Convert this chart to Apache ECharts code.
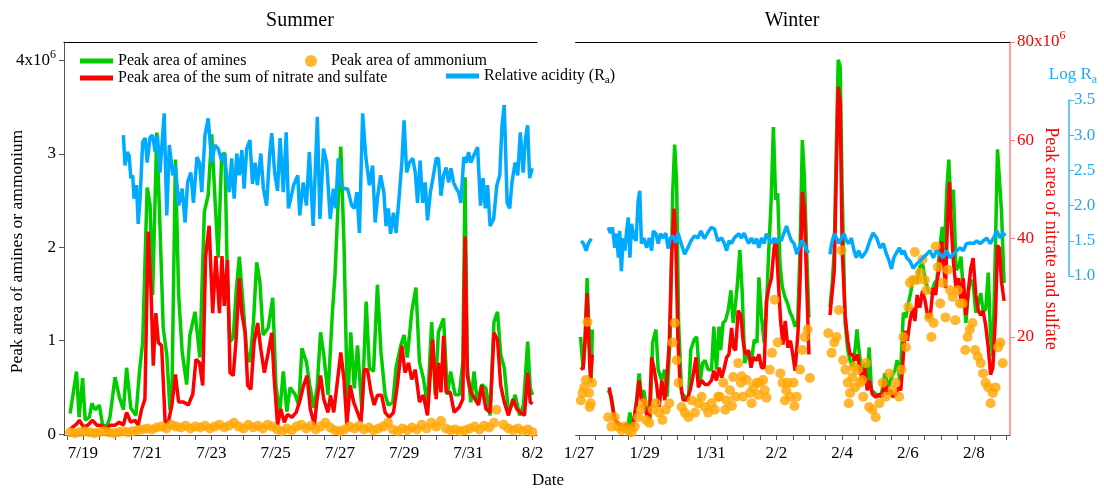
<!DOCTYPE html>
<html>
<head>
<meta charset="utf-8">
<script src="https://cdn.jsdelivr.net/npm/echarts@6/dist/echarts.min.js"></script>
<style>
  html, body { margin: 0; padding: 0; background: #fff; }
  #chart { width: 1104px; height: 489px; }
</style>
</head>
<body>
<div id="chart"></div>
<script>
// Time is in fractional days of the month: July for summer (32 = Aug 1),
// January for winter (32 = Feb 1).

// ---------- Summer ----------
const summerAmines = [[18.60,0.22],[18.80,0.67],[18.88,0.18],[18.99,0.60],[19.07,0.15],[19.20,0.18],[19.28,0.33],[19.38,0.26],[19.51,0.31],[19.61,0.10],[19.74,0.08],[19.84,0.18],[20.00,0.61],[20.13,0.40],[20.26,0.26],[20.36,0.71],[20.49,0.28],[20.65,0.20],[20.76,0.67],[20.86,0.98],[21.00,2.64],[21.09,2.46],[21.17,1.49],[21.30,3.23],[21.40,2.21],[21.50,1.14],[21.61,0.85],[21.71,0.26],[21.77,0.42],[21.88,2.94],[21.98,1.49],[22.09,0.88],[22.23,0.53],[22.33,1.06],[22.49,1.31],[22.64,0.82],[22.78,2.38],[22.90,2.56],[23.01,3.21],[23.11,2.53],[23.21,1.89],[23.32,2.99],[23.42,3.01],[23.50,1.63],[23.58,0.99],[23.68,1.03],[23.77,1.52],[23.87,1.90],[23.98,1.42],[24.10,0.88],[24.20,0.77],[24.31,1.20],[24.41,1.84],[24.51,1.63],[24.61,1.06],[24.77,1.14],[24.91,1.46],[25.01,0.53],[25.12,0.20],[25.24,0.67],[25.35,0.24],[25.45,0.50],[25.61,0.42],[25.72,0.31],[25.82,0.92],[25.96,0.77],[26.06,0.53],[26.19,0.28],[26.29,0.49],[26.40,1.09],[26.50,0.85],[26.63,0.42],[26.77,1.31],[26.85,1.71],[26.92,2.27],[27.03,3.08],[27.13,2.03],[27.24,0.24],[27.34,1.09],[27.45,0.49],[27.55,0.95],[27.69,0.24],[27.82,1.42],[27.92,0.71],[28.05,0.67],[28.17,1.60],[28.28,0.88],[28.41,0.42],[28.51,0.31],[28.65,0.34],[28.75,0.71],[28.90,0.95],[29.00,1.06],[29.10,0.82],[29.24,1.31],[29.37,1.57],[29.48,0.77],[29.60,0.60],[29.73,0.31],[29.86,1.20],[29.97,0.42],[30.07,1.09],[30.23,1.24],[30.35,0.42],[30.45,0.67],[30.59,0.42],[30.72,0.42],[30.83,0.77],[30.90,2.75],[30.97,0.71],[31.08,0.34],[31.18,0.67],[31.28,0.34],[31.42,0.53],[31.55,0.49],[31.68,0.20],[31.80,1.20],[31.91,1.31],[32.01,0.85],[32.12,0.71],[32.25,0.24],[32.36,0.31],[32.46,0.42],[32.60,0.20],[32.72,0.31],[32.85,0.99],[32.93,0.49],[33.00,0.42]];

const summerNitrateSulfate = [[18.60,1.2],[18.80,2.2],[18.89,3.0],[19.02,1.6],[19.15,2.0],[19.30,3.0],[19.43,2.0],[19.56,2.0],[19.74,1.2],[19.84,2.0],[20.00,2.0],[20.13,2.6],[20.26,2.0],[20.36,4.6],[20.49,2.6],[20.62,3.0],[20.72,2.0],[20.83,5.3],[20.93,7.3],[21.03,41.4],[21.12,29.5],[21.19,14.1],[21.27,24.8],[21.35,18.8],[21.45,18.2],[21.56,2.6],[21.66,2.6],[21.77,6.1],[21.88,12.3],[21.98,6.7],[22.13,6.7],[22.28,6.1],[22.42,8.3],[22.52,15.4],[22.63,14.7],[22.73,10.1],[22.82,36.4],[22.93,42.6],[23.04,24.8],[23.14,36.4],[23.25,24.8],[23.33,36.4],[23.40,26.3],[23.50,35.6],[23.58,12.7],[23.68,12.1],[23.77,19.4],[23.87,31.9],[23.95,24.8],[24.05,20.8],[24.13,10.1],[24.23,9.3],[24.33,18.8],[24.44,22.8],[24.54,17.4],[24.65,12.7],[24.77,16.8],[24.88,20.8],[24.95,12.1],[25.06,2.0],[25.16,5.3],[25.27,2.6],[25.37,4.2],[25.51,3.6],[25.64,4.6],[25.77,7.3],[25.87,10.1],[25.98,12.1],[26.08,5.3],[26.21,2.0],[26.29,7.3],[26.40,12.1],[26.50,7.3],[26.63,4.6],[26.71,8.1],[26.81,4.6],[26.92,10.7],[27.03,16.8],[27.13,11.3],[27.22,2.0],[27.32,10.1],[27.43,6.7],[27.55,4.6],[27.66,2.6],[27.76,13.3],[27.86,13.3],[27.97,8.7],[28.07,6.1],[28.17,8.1],[28.30,8.1],[28.41,4.6],[28.54,3.6],[28.67,4.6],[28.79,10.1],[28.93,18.2],[29.03,12.7],[29.14,14.7],[29.24,11.3],[29.35,13.3],[29.48,6.7],[29.60,8.1],[29.73,4.0],[29.89,19.4],[30.00,7.3],[30.07,14.7],[30.15,8.7],[30.23,20.2],[30.31,8.7],[30.44,8.7],[30.56,4.6],[30.72,5.7],[30.83,7.3],[30.90,40.4],[30.97,12.1],[31.08,8.7],[31.21,7.3],[31.32,6.1],[31.42,10.1],[31.55,5.3],[31.68,4.6],[31.80,20.8],[31.91,19.4],[32.01,10.1],[32.12,6.7],[32.25,4.0],[32.39,7.3],[32.51,5.3],[32.62,4.6],[32.75,4.0],[32.85,12.7],[32.93,6.7],[33.00,6.3]];

const summerAmmonium = [[18.60,0.02],[18.75,0.01],[18.90,0.02],[19.05,0.03],[19.20,0.02],[19.35,0.01],[19.50,0.02],[19.65,0.03],[19.80,0.02],[19.95,0.01],[20.10,0.02],[20.25,0.03],[20.40,0.02],[20.55,0.03],[20.70,0.04],[20.85,0.05],[21.00,0.06],[21.15,0.05],[21.30,0.07],[21.45,0.08],[21.60,0.06],[21.75,0.10],[21.90,0.08],[22.05,0.07],[22.20,0.09],[22.35,0.06],[22.50,0.08],[22.65,0.07],[22.80,0.09],[22.95,0.06],[23.10,0.08],[23.25,0.10],[23.40,0.07],[23.55,0.09],[23.70,0.12],[23.85,0.08],[24.00,0.06],[24.15,0.10],[24.30,0.07],[24.45,0.09],[24.60,0.06],[24.75,0.10],[24.90,0.08],[25.05,0.05],[25.20,0.03],[25.35,0.06],[25.50,0.04],[25.65,0.08],[25.80,0.10],[25.95,0.06],[26.10,0.09],[26.25,0.05],[26.40,0.08],[26.55,0.12],[26.70,0.07],[26.85,0.04],[27.00,0.03],[27.15,0.05],[27.30,0.08],[27.45,0.06],[27.60,0.09],[27.75,0.05],[27.90,0.07],[28.05,0.04],[28.20,0.06],[28.35,0.08],[28.50,0.12],[28.65,0.05],[28.80,0.03],[28.95,0.06],[29.10,0.04],[29.25,0.07],[29.40,0.05],[29.55,0.10],[29.70,0.06],[29.85,0.12],[30.00,0.08],[30.15,0.14],[30.30,0.06],[30.45,0.04],[30.60,0.05],[30.75,0.03],[30.90,0.04],[31.05,0.06],[31.20,0.08],[31.35,0.05],[31.50,0.09],[31.65,0.07],[31.80,0.12],[31.88,0.26],[32.10,0.10],[32.25,0.06],[32.40,0.04],[32.55,0.06],[32.70,0.03],[32.85,0.05],[33.00,0.02]];

const summerLogRa = [[20.26,3.00],[20.31,2.57],[20.38,2.76],[20.44,2.71],[20.49,2.39],[20.55,2.43],[20.59,2.10],[20.67,2.29],[20.72,1.74],[20.78,2.10],[20.86,2.90],[20.94,2.96],[21.00,2.61],[21.09,2.97],[21.17,3.00],[21.25,2.76],[21.32,3.00],[21.40,2.47],[21.53,3.31],[21.61,1.86],[21.69,2.86],[21.80,2.43],[21.88,2.57],[21.98,2.00],[22.09,2.24],[22.18,1.76],[22.26,2.33],[22.36,2.47],[22.44,2.04],[22.55,2.69],[22.63,2.61],[22.70,2.19],[22.80,3.00],[22.90,3.24],[23.01,2.61],[23.11,2.86],[23.21,2.81],[23.32,2.64],[23.40,2.74],[23.48,2.43],[23.56,2.19],[23.63,2.67],[23.71,2.10],[23.79,2.74],[23.87,2.43],[23.95,2.79],[24.02,2.24],[24.10,2.81],[24.20,2.93],[24.28,2.31],[24.36,2.61],[24.43,2.29],[24.54,2.74],[24.62,2.24],[24.72,2.00],[24.81,2.71],[24.88,3.03],[24.97,2.47],[25.06,2.21],[25.14,2.96],[25.24,2.19],[25.33,3.04],[25.40,1.96],[25.49,2.14],[25.56,2.29],[25.69,2.43],[25.75,1.86],[25.86,2.33],[25.96,2.00],[26.05,2.76],[26.17,1.71],[26.30,3.26],[26.38,1.81],[26.49,2.81],[26.59,2.61],[26.70,1.81],[26.80,2.24],[26.87,1.96],[26.95,2.67],[27.03,2.29],[27.14,2.24],[27.24,2.24],[27.37,2.00],[27.45,1.96],[27.53,2.19],[27.61,1.61],[27.71,3.31],[27.81,2.69],[27.92,2.29],[28.02,2.57],[28.10,1.76],[28.18,2.14],[28.27,2.43],[28.37,2.19],[28.44,1.71],[28.51,1.96],[28.58,1.60],[28.67,1.90],[28.75,1.61],[28.85,2.14],[28.93,2.61],[29.00,3.21],[29.08,2.47],[29.17,2.61],[29.27,2.67],[29.35,2.47],[29.42,2.04],[29.50,2.64],[29.58,2.04],[29.66,2.33],[29.73,1.79],[29.82,2.19],[29.90,2.39],[30.00,2.67],[30.07,2.67],[30.15,2.14],[30.23,2.43],[30.31,2.54],[30.39,2.33],[30.46,2.53],[30.54,2.33],[30.63,2.24],[30.70,2.19],[30.77,2.04],[30.86,2.69],[30.94,2.61],[31.01,2.76],[31.08,2.61],[31.17,2.71],[31.29,2.83],[31.38,2.00],[31.46,2.39],[31.53,1.96],[31.60,2.29],[31.68,1.71],[31.79,1.81],[31.89,2.29],[31.98,2.43],[32.05,3.14],[32.12,3.43],[32.21,2.04],[32.29,1.96],[32.36,2.33],[32.46,2.61],[32.54,2.43],[32.62,3.04],[32.71,2.47],[32.78,2.96],[32.85,3.14],[32.91,2.39],[32.99,2.53]];

// ---------- Winter ---------- (null entries mark instrument gaps)
const winterAmines = [[27.05,1.04],[27.13,0.69],[27.19,1.01],[27.25,1.67],[27.31,1.08],[27.37,0.55],[27.41,1.12],[27.65,null],[27.89,0.47],[27.99,0.40],[28.09,0.15],[28.19,0.12],[28.30,0.04],[28.40,0.08],[28.47,0.04],[28.55,0.23],[28.63,0.04],[28.75,0.36],[28.83,0.65],[28.90,0.40],[28.97,0.47],[29.06,0.26],[29.16,0.15],[29.24,0.98],[29.34,1.12],[29.41,0.69],[29.51,0.58],[29.61,0.69],[29.68,0.40],[29.77,1.01],[29.85,2.58],[29.91,3.10],[29.97,2.69],[30.03,1.19],[30.12,0.44],[30.22,0.40],[30.33,0.36],[30.40,0.90],[30.50,1.01],[30.58,1.04],[30.68,0.55],[30.76,0.76],[30.83,0.79],[30.93,0.69],[31.03,0.69],[31.10,1.15],[31.18,0.69],[31.26,1.15],[31.31,0.90],[31.38,1.19],[31.46,1.22],[31.54,1.33],[31.62,1.54],[31.69,1.19],[31.76,1.40],[31.82,1.62],[31.89,1.97],[31.96,1.54],[32.04,0.76],[32.15,0.90],[32.23,0.76],[32.33,1.01],[32.41,0.98],[32.47,1.68],[32.55,1.25],[32.63,0.98],[32.70,1.36],[32.77,1.97],[32.84,2.48],[32.91,3.29],[32.98,2.51],[33.04,2.58],[33.11,1.83],[33.18,1.58],[33.26,1.47],[33.34,1.40],[33.42,1.30],[33.49,1.25],[33.57,1.15],[33.65,1.22],[33.72,1.97],[33.79,3.15],[33.85,2.76],[33.92,1.97],[33.99,1.25],[34.30,null],[34.63,1.36],[34.70,1.62],[34.76,1.97],[34.82,3.05],[34.88,4.01],[34.94,3.94],[35.00,2.62],[35.09,1.19],[35.17,0.90],[35.24,0.79],[35.31,0.72],[35.39,0.90],[35.45,1.12],[35.51,0.90],[35.59,0.69],[35.67,0.76],[35.76,0.55],[35.82,0.93],[35.89,0.47],[35.99,0.44],[36.10,0.40],[36.20,0.44],[36.30,0.65],[36.40,0.50],[36.50,0.61],[36.61,0.69],[36.67,0.79],[36.76,0.55],[36.86,1.30],[36.94,1.25],[37.01,1.40],[37.08,1.51],[37.16,1.68],[37.26,1.62],[37.36,1.79],[37.44,1.83],[37.51,1.68],[37.61,1.54],[37.71,1.51],[37.81,1.62],[37.88,1.65],[37.96,1.97],[38.04,2.22],[38.11,1.97],[38.18,2.62],[38.24,2.94],[38.31,2.40],[38.38,2.62],[38.46,1.76],[38.54,1.79],[38.61,1.90],[38.68,1.54],[38.76,1.19],[38.84,1.54],[38.91,1.65],[38.98,1.62],[39.06,1.30],[39.14,1.40],[39.21,1.51],[39.28,1.33],[39.36,1.33],[39.44,1.73],[39.51,1.04],[39.58,0.83],[39.66,2.05],[39.72,3.05],[39.78,3.05],[39.84,2.40],[39.92,1.62]];

const winterNitrateSulfate = [[27.06,13.3],[27.13,13.7],[27.19,19.8],[27.25,28.9],[27.31,17.8],[27.35,11.1],[27.41,16.4],[27.65,null],[27.92,9.7],[27.99,7.1],[28.06,4.2],[28.14,2.6],[28.24,2.2],[28.35,1.6],[28.45,2.2],[28.53,1.6],[28.63,1.2],[28.75,6.3],[28.83,11.1],[28.90,7.1],[28.97,7.1],[29.06,4.2],[29.14,3.6],[29.21,15.8],[29.28,13.7],[29.36,10.3],[29.44,5.7],[29.52,11.1],[29.61,7.1],[29.67,11.1],[29.75,19.2],[29.82,36.6],[29.89,46.1],[29.95,38.0],[30.01,19.2],[30.07,11.1],[30.17,7.1],[30.28,7.1],[30.38,9.1],[30.46,11.7],[30.56,15.8],[30.63,9.7],[30.73,11.1],[30.83,10.3],[30.93,10.3],[31.03,11.1],[31.10,13.1],[31.18,11.1],[31.26,13.7],[31.34,11.7],[31.42,13.7],[31.49,15.8],[31.56,16.4],[31.64,21.8],[31.70,17.8],[31.76,17.2],[31.84,25.3],[31.92,24.4],[31.99,19.2],[32.06,16.4],[32.15,17.2],[32.23,13.7],[32.30,15.8],[32.40,15.2],[32.47,16.4],[32.55,13.7],[32.63,13.7],[32.70,27.3],[32.77,29.9],[32.85,31.9],[32.93,38.0],[32.99,40.0],[33.05,32.5],[33.13,23.2],[33.20,18.4],[33.27,23.2],[33.35,17.8],[33.43,19.2],[33.50,16.4],[33.57,13.1],[33.66,21.2],[33.72,31.3],[33.79,49.5],[33.85,46.1],[33.92,31.3],[33.99,16.4],[34.30,null],[34.63,24.4],[34.70,29.3],[34.76,33.3],[34.82,52.7],[34.88,70.9],[34.94,67.7],[35.00,38.0],[35.09,24.4],[35.17,19.2],[35.24,16.4],[35.31,16.4],[35.39,15.2],[35.47,16.4],[35.54,13.1],[35.62,11.1],[35.69,13.7],[35.76,9.1],[35.82,11.1],[35.92,8.3],[36.02,7.7],[36.13,8.3],[36.21,7.7],[36.30,11.1],[36.37,8.3],[36.47,9.1],[36.55,7.7],[36.63,8.3],[36.71,9.7],[36.78,9.1],[36.84,14.3],[36.91,21.2],[36.98,19.2],[37.06,23.2],[37.14,25.9],[37.21,23.2],[37.28,28.5],[37.36,25.9],[37.44,29.3],[37.52,27.3],[37.61,23.8],[37.68,24.4],[37.76,29.9],[37.84,28.5],[37.91,32.5],[37.96,33.9],[38.02,39.4],[38.08,35.4],[38.14,29.9],[38.20,43.4],[38.26,51.5],[38.32,42.0],[38.39,34.5],[38.46,29.9],[38.54,31.9],[38.61,27.3],[38.68,31.9],[38.76,24.4],[38.84,29.9],[38.91,33.9],[38.98,36.0],[39.06,28.5],[39.14,25.3],[39.21,24.4],[39.28,25.3],[39.36,22.4],[39.44,17.8],[39.51,12.3],[39.58,13.7],[39.66,24.4],[39.72,38.6],[39.78,38.0],[39.84,31.3],[39.92,27.3]];

const winterAmmonium = [[27.06,0.36],[27.11,0.44],[27.16,0.50],[27.21,0.58],[27.26,1.20],[27.31,0.44],[27.33,0.29],[27.36,0.33],[27.40,0.55],[27.89,0.18],[27.99,0.08],[28.09,0.18],[28.19,0.08],[28.30,0.04],[28.40,0.08],[28.50,0.04],[28.60,0.02],[28.70,0.08],[28.80,0.18],[28.88,0.26],[28.96,0.33],[29.04,0.15],[29.14,0.12],[29.24,0.26],[29.34,0.33],[29.44,0.23],[29.54,0.15],[29.64,0.26],[29.75,0.33],[29.85,0.98],[29.91,1.19],[29.97,0.79],[30.03,0.55],[30.12,0.29],[30.22,0.23],[30.33,0.18],[30.43,0.36],[30.53,0.23],[30.63,0.33],[30.73,0.40],[30.83,0.29],[30.93,0.23],[31.03,0.33],[31.13,0.26],[31.23,0.40],[31.28,0.40],[31.39,0.55],[31.45,0.26],[31.49,0.36],[31.59,0.47],[31.65,0.30],[31.69,0.61],[31.76,0.40],[31.84,0.76],[31.92,0.55],[31.95,0.62],[31.99,0.40],[32.10,0.58],[32.20,0.44],[32.25,0.33],[32.30,0.50],[32.40,0.55],[32.45,0.42],[32.50,0.55],[32.60,0.58],[32.65,0.47],[32.70,0.39],[32.80,0.69],[32.87,0.87],[32.95,1.44],[33.04,0.98],[33.12,0.65],[33.19,0.55],[33.26,0.36],[33.30,0.47],[33.34,0.55],[33.42,0.40],[33.52,0.55],[33.55,0.30],[33.62,0.40],[33.72,0.69],[33.79,0.90],[33.87,1.04],[33.95,1.12],[34.02,0.60],[34.58,1.08],[34.68,0.87],[34.76,0.98],[34.83,1.04],[34.90,1.33],[34.98,1.97],[35.03,0.79],[35.10,0.69],[35.17,0.55],[35.20,0.33],[35.24,0.44],[35.31,0.61],[35.35,0.72],[35.39,0.50],[35.47,0.69],[35.54,0.55],[35.61,0.58],[35.64,0.40],[35.72,0.76],[35.82,0.29],[35.92,0.26],[36.02,0.18],[36.13,0.33],[36.23,0.55],[36.33,0.40],[36.43,0.65],[36.53,0.47],[36.63,0.55],[36.73,0.40],[36.80,0.69],[36.86,1.04],[36.94,0.93],[37.01,1.36],[37.06,1.62],[37.14,1.65],[37.21,1.95],[37.28,1.65],[37.36,1.73],[37.44,1.87],[37.51,1.65],[37.56,1.54],[37.64,1.25],[37.71,1.04],[37.78,1.19],[37.84,2.01],[37.91,1.79],[37.98,1.40],[38.06,1.62],[38.14,1.25],[38.21,1.76],[38.28,1.54],[38.36,1.47],[38.44,1.22],[38.51,1.54],[38.58,1.40],[38.66,1.40],[38.74,0.90],[38.81,1.04],[38.88,1.12],[38.96,1.19],[39.04,0.90],[39.12,0.83],[39.21,0.76],[39.28,0.65],[39.36,0.55],[39.44,0.50],[39.51,0.33],[39.58,0.44],[39.66,0.50],[39.74,0.93],[39.81,0.98],[39.88,0.76]];

const winterLogRa = [[27.07,1.50],[27.14,1.46],[27.22,1.36],[27.29,1.47],[27.38,1.53],[27.65,null],[27.89,1.69],[27.96,1.61],[28.02,1.69],[28.09,1.40],[28.14,1.60],[28.20,1.26],[28.24,1.64],[28.29,1.07],[28.35,1.54],[28.40,1.36],[28.45,1.64],[28.50,1.83],[28.55,1.26],[28.60,1.74],[28.68,1.54],[28.74,1.50],[28.80,2.07],[28.85,2.21],[28.90,1.46],[28.97,1.54],[29.06,1.40],[29.14,1.54],[29.21,1.36],[29.26,1.64],[29.34,1.60],[29.41,1.46],[29.48,1.60],[29.56,1.54],[29.64,1.61],[29.71,1.39],[29.78,1.54],[29.86,1.57],[29.94,1.47],[30.01,1.61],[30.11,1.46],[30.21,1.31],[30.31,1.40],[30.41,1.50],[30.51,1.57],[30.61,1.54],[30.71,1.64],[30.81,1.53],[30.91,1.61],[31.02,1.69],[31.12,1.67],[31.22,1.50],[31.34,1.54],[31.42,1.46],[31.49,1.36],[31.56,1.50],[31.64,1.46],[31.72,1.54],[31.79,1.57],[31.86,1.60],[31.94,1.54],[32.02,1.61],[32.09,1.53],[32.16,1.46],[32.24,1.54],[32.32,1.46],[32.40,1.53],[32.47,1.40],[32.55,1.54],[32.63,1.46],[32.70,1.60],[32.77,1.54],[32.85,1.46],[32.93,1.54],[33.00,1.47],[33.07,1.54],[33.15,1.50],[33.23,1.61],[33.31,1.71],[33.38,1.60],[33.46,1.50],[33.54,1.46],[33.62,1.31],[33.69,1.40],[33.77,1.50],[33.85,1.46],[33.92,1.36],[33.99,1.33],[34.30,null],[34.63,1.31],[34.68,1.46],[34.76,1.60],[34.83,1.54],[34.90,1.46],[34.98,1.54],[35.06,1.60],[35.13,1.50],[35.20,1.46],[35.28,1.54],[35.36,1.36],[35.43,1.26],[35.50,1.36],[35.59,1.26],[35.67,1.31],[35.74,1.36],[35.84,1.50],[35.94,1.61],[36.05,1.54],[36.15,1.40],[36.25,1.46],[36.35,1.31],[36.43,1.21],[36.50,1.10],[36.57,1.26],[36.65,1.33],[36.74,1.40],[36.81,1.31],[36.88,1.36],[36.96,1.26],[37.06,1.21],[37.16,1.11],[37.26,1.17],[37.36,1.21],[37.46,1.26],[37.57,1.31],[37.67,1.36],[37.77,1.26],[37.87,1.36],[37.97,1.31],[38.07,1.26],[38.17,1.36],[38.28,1.26],[38.38,1.31],[38.48,1.36],[38.58,1.40],[38.68,1.36],[38.78,1.46],[38.89,1.47],[38.99,1.46],[39.09,1.50],[39.19,1.46],[39.29,1.50],[39.39,1.54],[39.50,1.46],[39.60,1.54],[39.70,1.64],[39.80,1.54],[39.88,1.61],[39.96,1.57]];

// ---------- Axis ticks and labels ----------
const summerLabelDays = [19, 21, 23, 25, 27, 29, 31, 33];
const summerTickLabels = ['7/19', '7/21', '7/23', '7/25', '7/27', '7/29', '7/31', '8/2'];
const winterLabelDays = [27, 29, 31, 33, 35, 37, 39];
const winterTickLabels = ['1/27', '1/29', '1/31', '2/2', '2/4', '2/6', '2/8'];
const amineTicks = [0, 1, 2, 3, 4];
const nitrateTicks = [20, 40, 60, 80];
const raTicks = [1.0, 1.5, 2.0, 2.5, 3.0, 3.5];

const FONT = 'Liberation Serif';
const GREEN = '#00cc00', RED = '#ff0000', ORANGE = '#ffa500', BLUE = '#00aaff';

function halfDayTicks(from, to) {
  const out = [];
  for (let d = from; d <= to + 1e-9; d += 0.5) out.push(d);
  return out;
}

function dateAxis(gridIndex, range, labelDays, labels, ticks) {
  return {
    type: 'value', gridIndex, min: range[0], max: range[1], position: 'bottom',
    axisLine: { show: true, onZero: false, lineStyle: { color: '#555', width: 1 } },
    axisTick: { show: true, customValues: ticks, length: 5, inside: false, lineStyle: { color: '#555' } },
    axisLabel: {
      customValues: labelDays, margin: 10,
      formatter: v => labels[labelDays.indexOf(Math.round(v))] || '',
      fontFamily: FONT, fontSize: 17, color: '#000'
    },
    splitLine: { show: false }
  };
}

function frameTop(gridIndex, range) {
  return {
    type: 'value', gridIndex, min: range[0], max: range[1], position: 'top',
    axisLine: { show: true, onZero: false, lineStyle: { color: '#000', width: 1 } },
    axisTick: { show: false }, axisLabel: { show: false }, splitLine: { show: false }
  };
}

function hiddenX(gridIndex, range) {
  return { type: 'value', gridIndex, min: range[0], max: range[1], show: false };
}

const summerRange = [18.41, 33.14];
const winterRange = [26.90, 40.10];
const amineRange = [-0.01, 4.2];
const nitrateRange = [0, 80];

const supRich = {
  m: { fontFamily: FONT, fontSize: 17, lineHeight: 24 },
  sup: { fontFamily: FONT, fontSize: 12, lineHeight: 14, verticalAlign: 'top' }
};

const chart = echarts.init(document.getElementById('chart'), null, { renderer: 'canvas' });

chart.setOption({
  animation: false,
  backgroundColor: '#fff',
  title: [
    { text: 'Summer', left: 300, top: 11, textAlign: 'center', padding: 0,
      textStyle: { fontFamily: FONT, fontSize: 20, fontWeight: 'normal', color: '#000' } },
    { text: 'Winter', left: 792, top: 11, textAlign: 'center', padding: 0,
      textStyle: { fontFamily: FONT, fontSize: 20, fontWeight: 'normal', color: '#000' } },
    { text: 'Date', left: 548, top: 472, textAlign: 'center', padding: 0,
      textStyle: { fontFamily: FONT, fontSize: 17, fontWeight: 'normal', color: '#000' } }
  ],
  legend: [
    { data: ['Peak area of amines'], left: 80, top: 52, padding: 0, icon: 'rect',
      itemWidth: 33, itemHeight: 5, textStyle: { fontFamily: FONT, fontSize: 16, color: '#000', lineHeight: 18 } },
    { data: ['Peak area of ammonium'], left: 305, top: 52, padding: 0, icon: 'circle',
      itemWidth: 30, itemHeight: 12, textStyle: { fontFamily: FONT, fontSize: 16, color: '#000', lineHeight: 18 } },
    { data: ['Peak area of the sum of nitrate and sulfate'], left: 80, top: 69, padding: 0, icon: 'rect',
      itemWidth: 33, itemHeight: 5, textStyle: { fontFamily: FONT, fontSize: 16, color: '#000', lineHeight: 18 } },
    { data: ['Relative acidity (Ra)'], left: 446, top: 68, padding: 0, icon: 'rect',
      itemWidth: 33, itemHeight: 5,
      formatter: () => '{a|Relative acidity (R}{s|a}{a|)}',
      textStyle: { fontFamily: FONT, fontSize: 16, color: '#000',
        rich: { a: { fontFamily: FONT, fontSize: 16, lineHeight: 20, color: '#000' },
                s: { fontFamily: FONT, fontSize: 11, lineHeight: 12, verticalAlign: 'bottom', color: '#000' } } } }
  ],
  grid: [
    { left: 64, top: 42, width: 473, height: 393, outerBoundsMode: 'none' },
    { left: 575.6, top: 42, width: 434.4, height: 393, outerBoundsMode: 'none' },
    { left: 64, top: 100, width: 473, height: 176, outerBoundsMode: 'none' },
    { left: 575.6, top: 100, width: 434.4, height: 176, outerBoundsMode: 'none' }
  ],
  xAxis: [
    dateAxis(0, summerRange, summerLabelDays, summerTickLabels, halfDayTicks(18.5, 33.0)),
    dateAxis(1, winterRange, winterLabelDays, winterTickLabels, halfDayTicks(27.0, 40.0)),
    frameTop(0, summerRange),
    frameTop(1, winterRange),
    hiddenX(2, summerRange),
    hiddenX(3, winterRange)
  ],
  yAxis: [
    { // amines / ammonium, summer panel
      type: 'value', gridIndex: 0, position: 'left', min: amineRange[0], max: amineRange[1],
      axisLine: { show: true, onZero: false, lineStyle: { color: '#555', width: 1 } },
      axisTick: { show: true, customValues: amineTicks, length: 5, lineStyle: { color: '#555' } },
      axisLabel: {
        customValues: amineTicks, margin: 8, color: '#000',
        formatter: v => v === 4 ? '{m|4x10}{sup|6}' : '{m|' + v + '}',
        rich: supRich
      },
      splitLine: { show: false },
      name: 'Peak area of amines or ammonium', nameLocation: 'middle', nameGap: 38,
      nameMoveOverlap: false,
      nameTextStyle: { fontFamily: FONT, fontSize: 17.5, color: '#000', padding: [0, 26, 0, 0] }
    },
    { type: 'value', gridIndex: 0, position: 'right', min: nitrateRange[0], max: nitrateRange[1], show: false },
    { type: 'value', gridIndex: 1, position: 'left', min: amineRange[0], max: amineRange[1], show: false },
    { // nitrate + sulfate, winter panel right side
      type: 'value', gridIndex: 1, position: 'right', min: nitrateRange[0], max: nitrateRange[1],
      axisLine: { show: true, onZero: false, lineStyle: { color: '#ff7a7a', width: 1.5 } },
      axisTick: { show: true, customValues: nitrateTicks, length: 5, lineStyle: { color: '#ff7a7a' } },
      axisLabel: {
        customValues: nitrateTicks, margin: 7, color: RED,
        formatter: v => v === 80 ? '{m|80x10}{sup|6}' : '{m|' + v + '}',
        rich: {
          m: { fontFamily: FONT, fontSize: 17, lineHeight: 24, color: RED },
          sup: { fontFamily: FONT, fontSize: 12, lineHeight: 14, verticalAlign: 'top', color: RED }
        }
      },
      splitLine: { show: false },
      name: 'Peak area of nitrate and sulfate', nameLocation: 'middle', nameRotate: -90, nameGap: 32,
      nameMoveOverlap: false,
      nameTextStyle: { fontFamily: FONT, fontSize: 18, color: RED }
    },
    { type: 'value', gridIndex: 2, min: 1, max: 3.5, show: false },
    { // Log Ra, outer right axis
      type: 'value', gridIndex: 3, position: 'right', offset: 59, min: 1, max: 3.5, interval: 0.5,
      axisLine: { show: true, onZero: false, lineStyle: { color: '#3db4f2', width: 1.5 } },
      axisTick: { show: true, customValues: raTicks, length: 5, lineStyle: { color: '#3db4f2' } },
      axisLabel: { customValues: raTicks, margin: 5, color: '#22aaf0', fontFamily: FONT, fontSize: 17,
        formatter: v => v.toFixed(1) },
      splitLine: { show: false },
      name: '{n|Log R}{s|a}', nameLocation: 'end', nameGap: 14,
      nameMoveOverlap: false,
      nameTextStyle: {
        padding: [0, 0, 0, 8],
        rich: { n: { fontFamily: FONT, fontSize: 17, lineHeight: 22, color: '#22aaf0' },
                s: { fontFamily: FONT, fontSize: 12, lineHeight: 12, verticalAlign: 'bottom', color: '#22aaf0' } }
      }
    }
  ],
  series: [
    { name: 'Peak area of amines', type: 'line', xAxisIndex: 0, yAxisIndex: 0, data: summerAmines,
      showSymbol: false, color: GREEN, lineStyle: { color: GREEN, width: 3.5 }, z: 2 },
    { name: 'Peak area of the sum of nitrate and sulfate', type: 'line', xAxisIndex: 0, yAxisIndex: 1,
      data: summerNitrateSulfate, showSymbol: false, color: RED, lineStyle: { color: RED, width: 3.5 }, z: 3 },
    { name: 'Peak area of ammonium', type: 'scatter', xAxisIndex: 0, yAxisIndex: 0, data: summerAmmonium,
      symbolSize: 10, color: ORANGE, itemStyle: { color: ORANGE }, z: 4 },
    { name: 'Relative acidity (Ra)', type: 'line', xAxisIndex: 4, yAxisIndex: 4, data: summerLogRa,
      showSymbol: false, color: BLUE, lineStyle: { color: BLUE, width: 3.5 }, z: 5 },

    { name: 'Peak area of amines', type: 'line', xAxisIndex: 1, yAxisIndex: 2, data: winterAmines,
      showSymbol: false, color: GREEN, lineStyle: { color: GREEN, width: 3.5 }, z: 2 },
    { name: 'Peak area of the sum of nitrate and sulfate', type: 'line', xAxisIndex: 1, yAxisIndex: 3,
      data: winterNitrateSulfate, showSymbol: false, color: RED, lineStyle: { color: RED, width: 3.5 }, z: 3 },
    { name: 'Peak area of ammonium', type: 'scatter', xAxisIndex: 1, yAxisIndex: 2, data: winterAmmonium,
      symbolSize: 10, color: ORANGE, itemStyle: { color: ORANGE }, z: 4 },
    { name: 'Relative acidity (Ra)', type: 'line', xAxisIndex: 5, yAxisIndex: 5, data: winterLogRa,
      showSymbol: false, color: BLUE, lineStyle: { color: BLUE, width: 3.5 }, z: 5 }
  ]
});
</script>
</body>
</html>
